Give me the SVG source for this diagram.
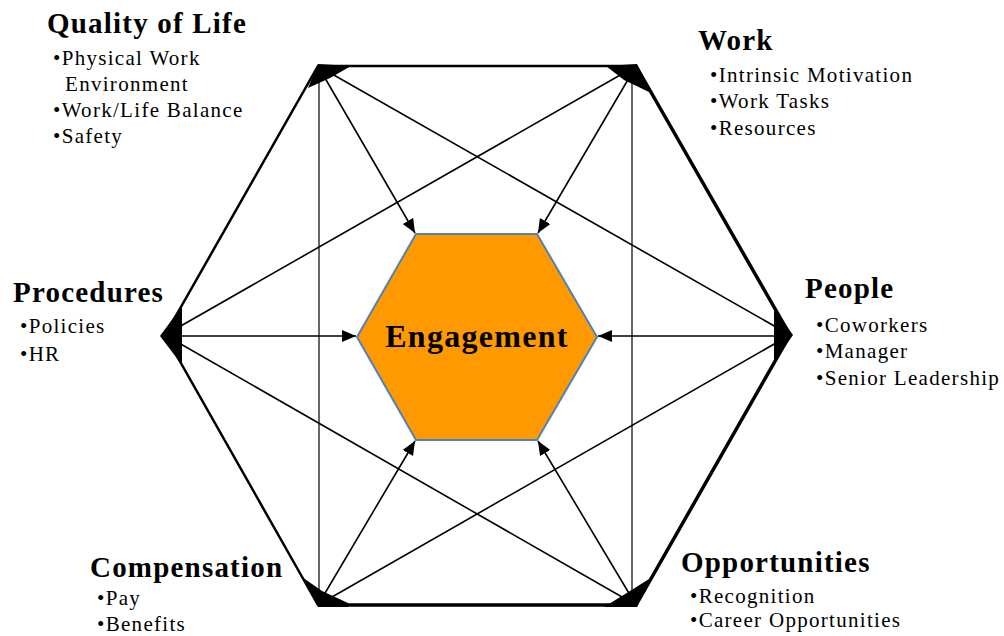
<svg xmlns="http://www.w3.org/2000/svg" width="1004" height="636" viewBox="0 0 1004 636">
<style>
.t{font-family:"Liberation Serif","Times New Roman",serif;font-weight:bold;font-size:29px;letter-spacing:1.2px;fill:#000}
.b{font-family:"Liberation Serif","Times New Roman",serif;font-size:21px;letter-spacing:1.3px;fill:#000}
.edge{fill:none;stroke:#000;stroke-linejoin:miter}
.diag{stroke:#000;stroke-width:1.6;fill:none}
.vert{stroke:#000;stroke-width:1.2;fill:none}
.arr{stroke:#000;stroke-width:1.6;fill:none;marker-end:url(#ah)}
.blob{fill:#000}
</style>
<defs>
<marker id="ah" markerUnits="userSpaceOnUse" markerWidth="16" markerHeight="14" refX="14" refY="6" orient="auto">
<path d="M0,0 L14,6 L0,12 Z" fill="#000"/>
</marker>
</defs>
<rect width="1004" height="636" fill="#fff"/>
<g id="outer-hexagon">
<path class="edge" stroke-width="2.5" d="M636,66 L318,66 L165,335 L318,605"/>
<path class="edge" stroke-width="3.5" d="M636,66 L790,335 L636,605 L318,605"/>
<polygon class="blob" points="318,64 351,66 330,78 308,88"/>
<polygon class="blob" points="606,66 637,64 651,93 624,80"/>
<polygon class="blob" points="160,336 182,306 182,365"/>
<polygon class="blob" points="774,308 793,335 774,362"/>
<polygon class="blob" points="302,577 322,591 348,603 348,607 318,607"/>
<polygon class="blob" points="604,607 637,607 649,579 630,591"/>
</g>
<g id="connectors">
<line class="vert" x1="319" y1="66" x2="319" y2="605"/>
<line class="vert" x1="632" y1="66" x2="632" y2="605"/>
<line class="diag" x1="318" y1="66" x2="790" y2="335"/>
<line class="diag" x1="636" y1="66" x2="165" y2="335"/>
<line class="diag" x1="165" y1="335" x2="636" y2="605"/>
<line class="diag" x1="318" y1="605" x2="790" y2="335"/>
<line class="arr" x1="318" y1="66" x2="415" y2="233"/>
<line class="arr" x1="636" y1="66" x2="538" y2="233"/>
<line class="arr" x1="165" y1="336" x2="356" y2="336"/>
<line class="arr" x1="790" y1="336" x2="598" y2="336" stroke-width="3"/>
<line class="arr" x1="318" y1="605" x2="415" y2="441"/>
<line class="arr" x1="636" y1="605" x2="538" y2="441"/>
</g>
<g id="engagement">
<polygon points="416,234 537,234 597,337 537,440 416,440 357,337" fill="#FF9900" stroke="#4F81BD" stroke-width="2"/>
<text x="477" y="347" text-anchor="middle" style="font-family:'Liberation Serif','Times New Roman',serif;font-weight:bold;font-size:32px;letter-spacing:1.3px;fill:#000">Engagement</text>
</g>
<g id="quality-of-life">
<text class="t" x="47" y="33">Quality of Life</text>
<text class="b" x="53" y="65">•Physical Work</text>
<text class="b" x="65" y="91">Environment</text>
<text class="b" x="53" y="117">•Work/Life Balance</text>
<text class="b" x="53" y="143">•Safety</text>
</g>
<g id="work">
<text class="t" x="698" y="50">Work</text>
<text class="b" x="710" y="82">•Intrinsic Motivation</text>
<text class="b" x="710" y="108">•Work Tasks</text>
<text class="b" x="710" y="135">•Resources</text>
</g>
<g id="procedures">
<text class="t" x="13" y="302">Procedures</text>
<text class="b" x="20" y="333">•Policies</text>
<text class="b" x="20" y="361">•HR</text>
</g>
<g id="people">
<text class="t" x="805" y="298">People</text>
<text class="b" x="816" y="332">•Coworkers</text>
<text class="b" x="816" y="358">•Manager</text>
<text class="b" x="816" y="385">•Senior Leadership</text>
</g>
<g id="compensation">
<text class="t" x="90" y="577">Compensation</text>
<text class="b" x="97" y="605">•Pay</text>
<text class="b" x="97" y="631">•Benefits</text>
</g>
<g id="opportunities">
<text class="t" x="681" y="572">Opportunities</text>
<text class="b" x="690" y="603">•Recognition</text>
<text class="b" x="690" y="627">•Career Opportunities</text>
</g>
</svg>
